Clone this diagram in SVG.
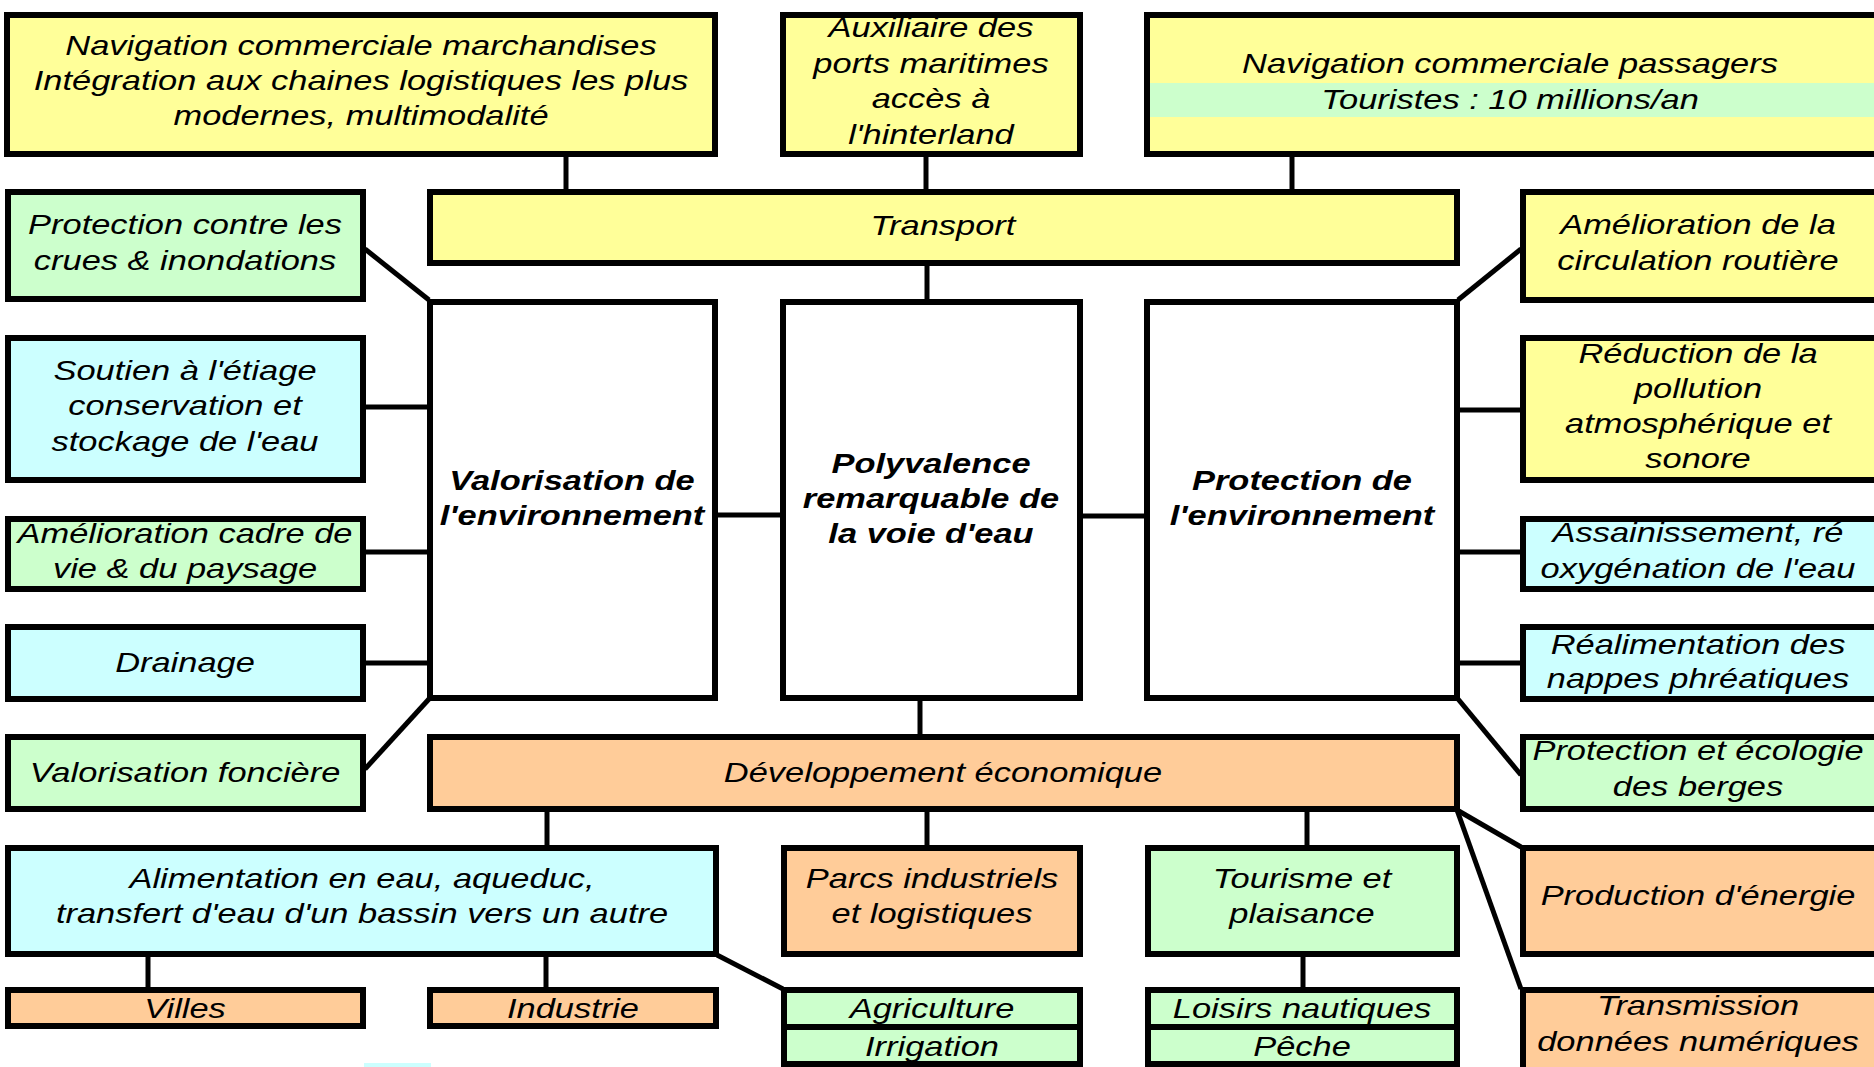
<svg xmlns="http://www.w3.org/2000/svg" width="1874" height="1067" viewBox="0 0 1874 1067">
<style>
.box{stroke:#000;stroke-width:6}
.y{fill:#FFFF99}.g{fill:#CCFFCC}.c{fill:#CCFFFF}.o{fill:#FFCC99}.w{fill:#FFFFFF}
.t{font-family:"Liberation Sans",Arial,sans-serif;font-style:italic;font-size:28px;text-anchor:middle;fill:#000}
.b{font-weight:bold}
#connectors line{stroke:#000;stroke-width:5}
</style>
<rect width="1874" height="1067" fill="#FFFFFF"/>
<g id="connectors">
<line x1="566" y1="155" x2="566" y2="192"/>
<line x1="926" y1="155" x2="926" y2="192"/>
<line x1="1292" y1="155" x2="1292" y2="192"/>
<line x1="927" y1="265" x2="927" y2="300"/>
<line x1="365" y1="249" x2="429" y2="300"/>
<line x1="366" y1="407" x2="428" y2="407"/>
<line x1="366" y1="552" x2="428" y2="552"/>
<line x1="366" y1="663" x2="428" y2="663"/>
<line x1="429" y1="699" x2="365" y2="769"/>
<line x1="716" y1="515" x2="782" y2="515"/>
<line x1="1081" y1="516" x2="1146" y2="516"/>
<line x1="1458" y1="300" x2="1521" y2="249"/>
<line x1="1458" y1="410" x2="1522" y2="410"/>
<line x1="1458" y1="552" x2="1522" y2="552"/>
<line x1="1458" y1="663" x2="1522" y2="663"/>
<line x1="1458" y1="699" x2="1521" y2="775"/>
<line x1="920" y1="699" x2="920" y2="736"/>
<line x1="547" y1="810" x2="547" y2="847"/>
<line x1="927" y1="810" x2="927" y2="847"/>
<line x1="1307" y1="810" x2="1307" y2="847"/>
<line x1="1457" y1="810" x2="1521" y2="847"/>
<line x1="1457" y1="810" x2="1521" y2="989"/>
<line x1="148" y1="954" x2="148" y2="989"/>
<line x1="546" y1="954" x2="546" y2="989"/>
<line x1="717" y1="955" x2="783" y2="989"/>
<line x1="1303" y1="954" x2="1303" y2="989"/>
</g>

<g id="n-marchandises">
<rect class="box y" x="7" y="15" width="708" height="139"/>
<text class="t" transform="translate(361 0) scale(1.23 1)" x="0" y="55">Navigation commerciale marchandises</text>
<text class="t" transform="translate(361 0) scale(1.23 1)" x="0" y="90">Intégration aux chaines logistiques les plus</text>
<text class="t" transform="translate(361 0) scale(1.23 1)" x="0" y="125">modernes, multimodalité</text>
</g>
<g id="n-auxiliaire">
<rect class="box y" x="783" y="15" width="297" height="139"/>
<text class="t" transform="translate(931 0) scale(1.23 1)" x="0" y="37">Auxiliaire des</text>
<text class="t" transform="translate(931 0) scale(1.23 1)" x="0" y="73">ports maritimes</text>
<text class="t" transform="translate(931 0) scale(1.23 1)" x="0" y="108">accès à</text>
<text class="t" transform="translate(931 0) scale(1.23 1)" x="0" y="144">l'hinterland</text>
</g>
<g id="n-passagers">
<rect class="box y" x="1147" y="15" width="740" height="139"/>
<rect class="g" x="1150" y="83" width="730" height="34"/>
<text class="t" transform="translate(1510 0) scale(1.23 1)" x="0" y="73">Navigation commerciale passagers</text>
<text class="t" transform="translate(1510 0) scale(1.23 1)" x="0" y="109">Touristes : 10 millions/an</text>
</g>
<g id="n-transport">
<rect class="box y" x="430" y="192" width="1027" height="71"/>
<text class="t" transform="translate(943 0) scale(1.23 1)" x="0" y="235">Transport</text>
</g>
<g id="n-crues">
<rect class="box g" x="8" y="192" width="355" height="107"/>
<text class="t" transform="translate(185 0) scale(1.23 1)" x="0" y="234">Protection contre les</text>
<text class="t" transform="translate(185 0) scale(1.23 1)" x="0" y="270">crues &amp; inondations</text>
</g>
<g id="n-circulation">
<rect class="box y" x="1523" y="192" width="360" height="108"/>
<text class="t" transform="translate(1698 0) scale(1.23 1)" x="0" y="234">Amélioration de la</text>
<text class="t" transform="translate(1698 0) scale(1.23 1)" x="0" y="270">circulation routière</text>
</g>
<g id="n-soutien">
<rect class="box c" x="8" y="338" width="355" height="142"/>
<text class="t" transform="translate(185 0) scale(1.23 1)" x="0" y="380">Soutien à l'étiage</text>
<text class="t" transform="translate(185 0) scale(1.23 1)" x="0" y="415">conservation et</text>
<text class="t" transform="translate(185 0) scale(1.23 1)" x="0" y="451">stockage de l'eau</text>
</g>
<g id="n-reduction">
<rect class="box y" x="1523" y="338" width="360" height="142"/>
<text class="t" transform="translate(1698 0) scale(1.23 1)" x="0" y="363">Réduction de la</text>
<text class="t" transform="translate(1698 0) scale(1.23 1)" x="0" y="398">pollution</text>
<text class="t" transform="translate(1698 0) scale(1.23 1)" x="0" y="433">atmosphérique et</text>
<text class="t" transform="translate(1698 0) scale(1.23 1)" x="0" y="468">sonore</text>
</g>
<g id="n-valorisation">
<rect class="box w" x="430" y="302" width="285" height="396"/>
<text class="t b" transform="translate(572 0) scale(1.23 1)" x="0" y="490">Valorisation de</text>
<text class="t b" transform="translate(572 0) scale(1.23 1)" x="0" y="525">l'environnement</text>
</g>
<g id="n-polyvalence">
<rect class="box w" x="783" y="302" width="297" height="396"/>
<text class="t b" transform="translate(931 0) scale(1.23 1)" x="0" y="473">Polyvalence</text>
<text class="t b" transform="translate(931 0) scale(1.23 1)" x="0" y="508">remarquable de</text>
<text class="t b" transform="translate(931 0) scale(1.23 1)" x="0" y="543">la voie d'eau</text>
</g>
<g id="n-protection">
<rect class="box w" x="1147" y="302" width="310" height="396"/>
<text class="t b" transform="translate(1302 0) scale(1.23 1)" x="0" y="490">Protection de</text>
<text class="t b" transform="translate(1302 0) scale(1.23 1)" x="0" y="525">l'environnement</text>
</g>
<g id="n-cadre">
<rect class="box g" x="8" y="519" width="355" height="70"/>
<text class="t" transform="translate(185 0) scale(1.23 1)" x="0" y="543">Amélioration cadre de</text>
<text class="t" transform="translate(185 0) scale(1.23 1)" x="0" y="578">vie &amp; du paysage</text>
</g>
<g id="n-assainissement">
<rect class="box c" x="1523" y="519" width="360" height="70"/>
<text class="t" transform="translate(1698 0) scale(1.23 1)" x="0" y="542">Assainissement, ré</text>
<text class="t" transform="translate(1698 0) scale(1.23 1)" x="0" y="578">oxygénation de l'eau</text>
</g>
<g id="n-drainage">
<rect class="box c" x="8" y="627" width="355" height="72"/>
<text class="t" transform="translate(185 0) scale(1.23 1)" x="0" y="672">Drainage</text>
</g>
<g id="n-realimentation">
<rect class="box c" x="1523" y="627" width="360" height="72"/>
<text class="t" transform="translate(1698 0) scale(1.23 1)" x="0" y="654">Réalimentation des</text>
<text class="t" transform="translate(1698 0) scale(1.23 1)" x="0" y="688">nappes phréatiques</text>
</g>
<g id="n-fonciere">
<rect class="box g" x="8" y="737" width="355" height="72"/>
<text class="t" transform="translate(185 0) scale(1.23 1)" x="0" y="782">Valorisation foncière</text>
</g>
<g id="n-developpement">
<rect class="box o" x="430" y="737" width="1027" height="72"/>
<text class="t" transform="translate(943 0) scale(1.23 1)" x="0" y="782">Développement économique</text>
</g>
<g id="n-berges">
<rect class="box g" x="1523" y="737" width="360" height="72"/>
<text class="t" transform="translate(1698 0) scale(1.23 1)" x="0" y="760">Protection et écologie</text>
<text class="t" transform="translate(1698 0) scale(1.23 1)" x="0" y="796">des berges</text>
</g>
<g id="n-alimentation">
<rect class="box c" x="8" y="848" width="708" height="106"/>
<text class="t" transform="translate(362 0) scale(1.23 1)" x="0" y="888">Alimentation en eau, aqueduc,</text>
<text class="t" transform="translate(362 0) scale(1.23 1)" x="0" y="923">transfert d'eau d'un bassin vers un autre</text>
</g>
<g id="n-parcs">
<rect class="box o" x="784" y="848" width="296" height="106"/>
<text class="t" transform="translate(932 0) scale(1.23 1)" x="0" y="888">Parcs industriels</text>
<text class="t" transform="translate(932 0) scale(1.23 1)" x="0" y="923">et logistiques</text>
</g>
<g id="n-tourisme">
<rect class="box g" x="1148" y="848" width="309" height="106"/>
<text class="t" transform="translate(1302 0) scale(1.23 1)" x="0" y="888">Tourisme et</text>
<text class="t" transform="translate(1302 0) scale(1.23 1)" x="0" y="923">plaisance</text>
</g>
<g id="n-energie">
<rect class="box o" x="1523" y="848" width="360" height="106"/>
<text class="t" transform="translate(1698 0) scale(1.23 1)" x="0" y="905">Production d'énergie</text>
</g>
<g id="n-villes">
<rect class="box o" x="8" y="990" width="355" height="36"/>
<text class="t" transform="translate(185 0) scale(1.23 1)" x="0" y="1018">Villes</text>
</g>
<g id="n-industrie">
<rect class="box o" x="430" y="990" width="286" height="36"/>
<text class="t" transform="translate(573 0) scale(1.23 1)" x="0" y="1018">Industrie</text>
</g>
<g id="n-agriculture">
<rect class="box g" x="784" y="990" width="296" height="37"/>
<text class="t" transform="translate(932 0) scale(1.23 1)" x="0" y="1018">Agriculture</text>
</g>
<g id="n-irrigation">
<rect class="box g" x="784" y="1027" width="296" height="37"/>
<text class="t" transform="translate(932 0) scale(1.23 1)" x="0" y="1056">Irrigation</text>
</g>
<g id="n-loisirs">
<rect class="box g" x="1148" y="990" width="309" height="37"/>
<text class="t" transform="translate(1302 0) scale(1.23 1)" x="0" y="1018">Loisirs nautiques</text>
</g>
<g id="n-peche">
<rect class="box g" x="1148" y="1027" width="309" height="37"/>
<text class="t" transform="translate(1302 0) scale(1.23 1)" x="0" y="1056">Pêche</text>
</g>
<g id="n-transmission">
<rect class="box o" x="1523" y="990" width="360" height="80"/>
<text class="t" transform="translate(1698 0) scale(1.23 1)" x="0" y="1015">Transmission</text>
<text class="t" transform="translate(1698 0) scale(1.23 1)" x="0" y="1051">données numériques</text>
</g>
<rect class="c" x="364" y="1063" width="67" height="4"/>
</svg>
